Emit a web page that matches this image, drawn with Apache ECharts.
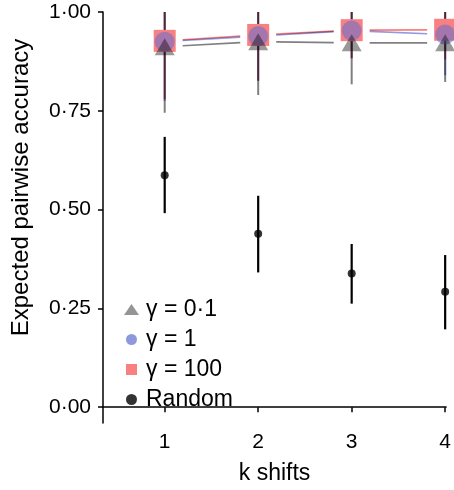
<!DOCTYPE html>
<html>
<head>
<meta charset="utf-8">
<script src="https://cdn.jsdelivr.net/npm/echarts@6/dist/echarts.min.js"></script>
<style>
  html, body { margin: 0; padding: 0; background: #fff; }
  #main { width: 454px; height: 490px; }
</style>
</head>
<body>
<div id="main"></div>
<script>
// k shifts
var shifts = [1, 2, 3, 4];

// mean accuracy per gamma
var gamma01 = [0.912, 0.925, 0.922, 0.922];
var gamma1 = [0.925, 0.939, 0.953, 0.943];
var gamma100 = [0.927, 0.942, 0.954, 0.955];
// error bar bounds (upper clipped at 1)
var gamma01Low = [0.745, 0.79, 0.817, 0.823];
var gamma1Low = [0.775, 0.826, 0.883, 0.84];
var gamma100Low = [0.78, 0.826, 0.883, 0.88];
var gammaHigh = [1.0, 1.0, 1.0, 1.0];

// random baseline
var randomMean = [0.587, 0.439, 0.338, 0.292];
var randomLow = [0.491, 0.341, 0.262, 0.197];
var randomHigh = [0.684, 0.535, 0.413, 0.385];

var yTicks = [0, 0.25, 0.5, 0.75, 1];

var cGray = '#808080', cBlue = '#9299df', cRed = '#f98080';
var font = 'Liberation Sans, Arial, sans-serif';

function pts(ys) { return shifts.map(function (x, i) { return [x, ys[i]]; }); }
function bars(lo, hi) { return shifts.map(function (x, i) { return [x, lo[i], hi[i]]; }); }
function segs(ys) {
  var out = [];
  for (var i = 0; i < shifts.length - 1; i++) out.push([shifts[i], ys[i], shifts[i + 1], ys[i + 1]]);
  return out;
}

function errBar(name, data, color, width, blend) {
  return {
    name: name, type: 'custom', data: data, clip: true, blendMode: blend,
    renderItem: function (params, api) {
      var a = api.coord([api.value(0), api.value(1)]);
      var b = api.coord([api.value(0), api.value(2)]);
      return { type: 'line', shape: { x1: a[0], y1: a[1], x2: b[0], y2: b[1] },
        style: { stroke: color, lineWidth: width } };
    }
  };
}

// line between points, with a small gap near each point
function gapLine(name, data, color) {
  return {
    name: name, type: 'custom', data: data, blendMode: 'multiply',
    renderItem: function (params, api) {
      var a = api.coord([api.value(0), api.value(1)]);
      var b = api.coord([api.value(2), api.value(3)]);
      var dx = b[0] - a[0], dy = b[1] - a[1];
      var len = Math.sqrt(dx * dx + dy * dy), g = 18;
      return { type: 'line',
        shape: { x1: a[0] + dx * g / len, y1: a[1] + dy * g / len, x2: b[0] - dx * g / len, y2: b[1] - dy * g / len },
        style: { stroke: color, lineWidth: 1.6 } };
    }
  };
}

var myChart = echarts.init(document.getElementById('main'));
var option = {
  backgroundColor: '#fff',
  animation: false,
  grid: { left: 103, right: 6, top: 12, bottom: 67 },
  legend: {
    orient: 'vertical', left: 119, top: 293,
    itemWidth: 15, itemHeight: 11, itemGap: 7,
    textStyle: { fontFamily: font, fontSize: 23, color: '#000', lineHeight: 23, padding: [0, 0, 0, 2] },
    data: [
      { name: 'γ = 0·1', icon: 'triangle', itemStyle: { color: '#7a7a7a' } },
      { name: 'γ = 1', icon: 'circle', itemStyle: { color: '#8e98dc', opacity: 1 } },
      { name: 'γ = 100', icon: 'path://M0,0L1,0L1,1L0,1Z' },
      { name: 'Random', icon: 'circle', itemStyle: { color: '#000' } }
    ]
  },
  xAxis: {
    type: 'value', min: 0.34, max: 4.01,
    name: 'k shifts', nameLocation: 'middle', nameGap: 39,
    nameTextStyle: { fontFamily: font, fontSize: 23, color: '#000' },
    axisLine: { lineStyle: { color: '#000', width: 1.5 } },
    axisTick: { show: true, length: 5, customValues: shifts, lineStyle: { color: '#000', width: 1.5 } },
    axisLabel: { customValues: shifts, fontFamily: font, fontSize: 21, color: '#000', margin: 9 },
    splitLine: { show: false }
  },
  yAxis: {
    type: 'value', min: -0.04, max: 1,
    name: 'Expected pairwise accuracy', nameLocation: 'middle', nameGap: 70,
    nameTextStyle: { fontFamily: font, fontSize: 24, color: '#000', padding: [0, 0, 0, 60] },
    axisLine: { show: true, lineStyle: { color: '#000', width: 1.5 } },
    axisTick: { show: true, length: 5, customValues: yTicks, lineStyle: { color: '#000', width: 1.5 } },
    axisLabel: {
      customValues: yTicks, fontFamily: font, fontSize: 21, color: '#000', margin: 12,
      formatter: function (v) { return v.toFixed(2).replace('.', '·'); }
    },
    splitLine: { show: false }
  },
  series: [
    { name: 'γ = 100', type: 'scatter', data: pts(gamma100), symbol: 'rect', symbolSize: 22,
      itemStyle: { color: cRed, opacity: 1 } },
    { name: 'γ = 1', type: 'scatter', data: pts(gamma1), symbol: 'circle', symbolSize: 20,
      itemStyle: { color: 'rgba(100,110,210,0.7)' } },
    { name: 'γ = 0·1', type: 'scatter', data: pts(gamma01), symbol: 'triangle', symbolSize: [20, 17],
      itemStyle: { color: cGray }, blendMode: 'multiply' },
    gapLine('l01', segs(gamma01), cGray),
    gapLine('l1', segs(gamma1), cBlue),
    gapLine('l100', segs(gamma100), cRed),
    errBar('e01', bars(gamma01Low, gammaHigh), cGray, 2, 'multiply'),
    errBar('e1', bars(gamma1Low, gammaHigh), cBlue, 2, 'multiply'),
    errBar('e100', bars(gamma100Low, gammaHigh), cRed, 2, 'multiply'),
    errBar('eRand', bars(randomLow, randomHigh), '#000', 2.2, 'source-over'),
    { name: 'Random', type: 'scatter', data: pts(randomMean), symbol: 'circle', symbolSize: 8,
      itemStyle: { color: '#000' } }
  ]
};
myChart.setOption(option);
</script>
</body>
</html>
